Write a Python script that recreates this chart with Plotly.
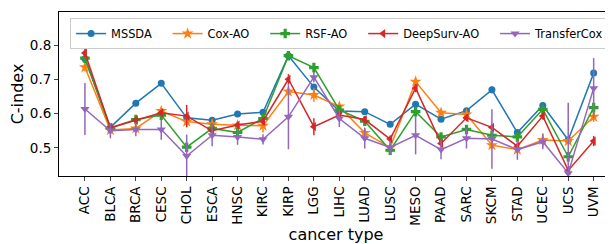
import plotly.graph_objects as go

categories = ["ACC", "BLCA", "BRCA", "CESC", "CHOL", "ESCA", "HNSC", "KIRC", "KIRP", "LGG",
              "LIHC", "LUAD", "LUSC", "MESO", "PAAD", "SARC", "SKCM", "STAD", "UCEC", "UCS", "UVM"]

mssda = [0.761, 0.560, 0.631, 0.689, 0.588, 0.581, 0.599, 0.604, 0.770, 0.678, 0.608,
         0.606, 0.569, 0.628, 0.584, 0.609, 0.670, 0.545, 0.624, 0.523, 0.719]
mssda_err = [0.005, 0.004, 0.005, 0.005, 0.005, 0.005, 0.004, 0.005, 0.005, 0.008, 0.005,
             0.005, 0.005, 0.008, 0.006, 0.006, 0.010, 0.005, 0.006, 0.006, 0.008]

cox_ao = [0.736, 0.552, 0.557, 0.608, 0.577, 0.569, 0.566, 0.565, 0.665, 0.655, 0.621,
          0.544, 0.501, 0.694, 0.603, 0.598, 0.508, 0.495, 0.523, 0.520, 0.591]
cox_ao_err = [0.012, 0.006, 0.008, 0.010, 0.010, 0.008, 0.006, 0.020, 0.012, 0.020, 0.010,
              0.012, 0.010, 0.010, 0.008, 0.008, 0.010, 0.008, 0.020, 0.008, 0.015]

rsf_ao = [0.763, 0.558, 0.583, 0.596, 0.502, 0.557, 0.545, 0.586, 0.770, 0.735, 0.611,
          0.578, 0.493, 0.606, 0.532, 0.554, 0.537, 0.532, 0.613, 0.474, 0.618]
rsf_ao_err = [0.008, 0.005, 0.008, 0.008, 0.010, 0.008, 0.008, 0.010, 0.008, 0.010, 0.008,
              0.008, 0.010, 0.010, 0.008, 0.008, 0.008, 0.008, 0.010, 0.010, 0.010]

deepsurv_ao = [0.778, 0.559, 0.581, 0.603, 0.593, 0.550, 0.567, 0.578, 0.701, 0.562, 0.596,
               0.583, 0.526, 0.675, 0.513, 0.588, 0.560, 0.505, 0.593, 0.434, 0.520]
deepsurv_ao_err = [0.012, 0.006, 0.008, 0.008, 0.033, 0.008, 0.008, 0.012, 0.015, 0.025, 0.010,
                   0.010, 0.010, 0.012, 0.010, 0.010, 0.010, 0.008, 0.010, 0.010, 0.015]

transfercox = [0.614, 0.550, 0.554, 0.554, 0.476, 0.537, 0.532, 0.525, 0.591, 0.707, 0.586,
               0.528, 0.501, 0.537, 0.495, 0.528, 0.526, 0.495, 0.518, 0.426, 0.675]
transfercox_err = [0.076, 0.022, 0.020, 0.030, 0.063, 0.032, 0.023, 0.015, 0.095, 0.015, 0.025,
                   0.030, 0.020, 0.056, 0.028, 0.030, 0.087, 0.030, 0.022, 0.206, 0.088]

y_ticks = [0.5, 0.6, 0.7, 0.8]

series = [
    ("MSSDA", mssda, mssda_err, "#1f77b4", "circle", 7),
    ("Cox-AO", cox_ao, cox_ao_err, "#ff7f0e", "star", 9),
    ("RSF-AO", rsf_ao, rsf_ao_err, "#2ca02c", "cross", 8),
    ("DeepSurv-AO", deepsurv_ao, deepsurv_ao_err, "#d62728", "triangle-left", 8),
    ("TransferCox", transfercox, transfercox_err, "#9467bd", "triangle-down", 8),
]
pad = "\u00a0" * 3

x_idx = list(range(len(categories)))
fig = go.Figure()
for i, (name, vals, errs, color, sym, size) in enumerate(series):
    label = name + (pad if i < len(series) - 1 else "")
    fig.add_trace(go.Scatter(
        x=x_idx, y=vals, name=label, mode="lines+markers",
        line=dict(color=color, width=1.5),
        marker=dict(color=color, symbol=sym, size=size, line=dict(width=0)),
        error_y=dict(type="data", array=errs, visible=True, color=color, thickness=1.5, width=0),
    ))

# the page body adds an 8px offset; the figure is sized to fill the rest of the window
font_family = "DejaVu Sans"
fig.update_layout(
    width=605, height=236,
    margin=dict(l=51, r=0, t=4, b=68),
    paper_bgcolor="white", plot_bgcolor="white",
    font=dict(family=font_family, color="black"),
    showlegend=True,
    legend=dict(
        orientation="h", x=0.02, y=0.963, xanchor="left", yanchor="top",
        bgcolor="rgba(255,255,255,0.8)", bordercolor="#cccccc", borderwidth=1,
        font=dict(size=11.4, family=font_family, color="black"),
    ),
    xaxis=dict(
        range=[-1.02, 20.76], tickmode="array", tickvals=x_idx, ticktext=categories,
        tickangle=-90, tickfont=dict(size=13.5), ticks="outside", ticklen=4,
        showline=True, linecolor="black", linewidth=1, mirror=True,
        showgrid=False, zeroline=False, automargin=False,
        title=dict(text="cancer type", font=dict(size=16), standoff=4),
    ),
    yaxis=dict(
        range=[0.4176, 0.898], tickmode="array", tickvals=y_ticks,
        ticktext=[f"{v:.1f}" for v in y_ticks],
        tickfont=dict(size=13.5), ticks="outside", ticklen=4,
        showline=True, linecolor="black", linewidth=1, mirror=False,
        showgrid=False, zeroline=False, automargin=False,
        title=dict(text="C-index", font=dict(size=16), standoff=2),
    ),
)

fig.write_html("out.html")
